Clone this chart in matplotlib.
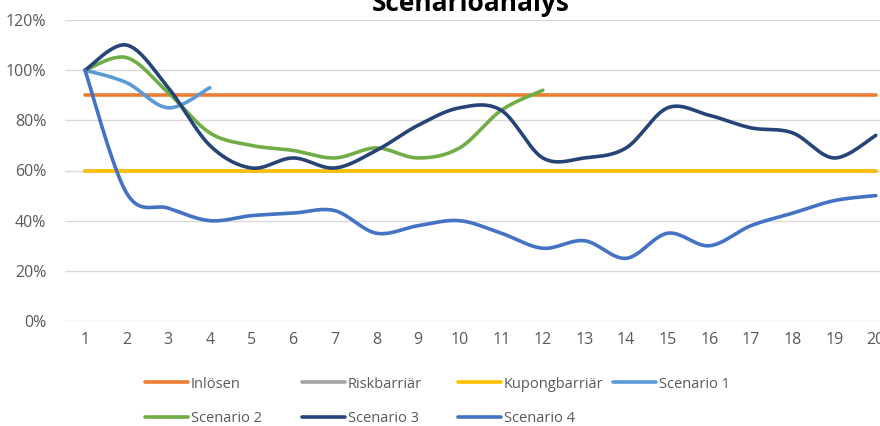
import numpy as np
import matplotlib.pyplot as plt
from matplotlib.ticker import PercentFormatter

plt.rcParams['font.family'] = ['Open Sans', 'DejaVu Sans']

x = list(range(1, 21))
inlosen = [0.90] * 20
riskbarriar = [0.60] * 20
kupongbarriar = [0.60] * 20
scenario1 = [1.00, 0.95, 0.85, 0.93]
scenario2 = [1.00, 1.05, 0.91, 0.75, 0.70, 0.68, 0.65, 0.69, 0.65, 0.69, 0.84, 0.92]
scenario3 = [1.00, 1.10, 0.93, 0.70, 0.61, 0.65, 0.61, 0.68, 0.78, 0.85,
             0.84, 0.65, 0.65, 0.69, 0.85, 0.82, 0.77, 0.75, 0.65, 0.74]
scenario4 = [1.00, 0.51, 0.45, 0.40, 0.42, 0.43, 0.44, 0.35, 0.38, 0.40,
             0.35, 0.29, 0.32, 0.25, 0.35, 0.30, 0.38, 0.43, 0.48, 0.50]


def smooth(xs, ys, n=30):
    # Catmull-Rom style curve through the points, like Excel's smoothed lines
    xs = np.asarray(xs, float)
    ys = np.asarray(ys, float)
    px = np.concatenate([[xs[0]], xs, [xs[-1]]])
    py = np.concatenate([[ys[0]], ys, [ys[-1]]])
    outx, outy = [], []
    t = np.linspace(0, 1, n)
    for i in range(1, len(px) - 2):
        p0, p1, p2, p3 = [np.array([px[j], py[j]]) for j in (i - 1, i, i + 1, i + 2)]
        c1 = p1 + (p2 - p0) / 6
        c2 = p2 - (p3 - p1) / 6
        b = ((1 - t) ** 3)[:, None] * p1 + (3 * (1 - t) ** 2 * t)[:, None] * c1 \
            + (3 * (1 - t) * t ** 2)[:, None] * c2 + (t ** 3)[:, None] * p2
        outx.extend(b[:, 0])
        outy.extend(b[:, 1])
    return outx, outy


fig = plt.figure(figsize=(8.8, 4.26), dpi=100)
ax = fig.add_axes([65 / 880, 1 - 321 / 426, 1 - 65 / 880, (321 - 20) / 426])

series = [
    ('Inlösen', x, inlosen, '#ED7D31'),
    ('Riskbarriär', x, riskbarriar, '#A5A5A5'),
    ('Kupongbarriär', x, kupongbarriar, '#FFC000'),
    ('Scenario 1', x[:len(scenario1)], scenario1, '#5B9BD5'),
    ('Scenario 2', x[:len(scenario2)], scenario2, '#70AD47'),
    ('Scenario 3', x, scenario3, '#264478'),
    ('Scenario 4', x, scenario4, '#4472C4'),
]

lines = {}
for name, xs, ys, col in series:
    sx, sy = smooth(xs, ys)
    ln, = ax.plot(sx, sy, color=col, lw=2.6, label=name, solid_capstyle='round', clip_on=False)
    lines[name] = ln

ax.set_ylim(0, 1.2)
ax.set_xlim(0.52, 20.1)
ax.set_yticks(np.arange(0, 1.21, 0.2))
ax.yaxis.set_major_formatter(PercentFormatter(1.0, decimals=0))
ax.set_xticks(x)
ax.grid(axis='y', color='#D9D9D9', lw=1)
ax.set_axisbelow(True)
for s in ax.spines.values():
    s.set_visible(False)
ax.tick_params(length=0, colors='#595959', labelsize=11.5)
ax.tick_params(axis='y', pad=13.5)
ax.tick_params(axis='x', pad=8)

fig.text(471 / 880, 1 - 11 / 426, 'Scenarioanalys', ha='center', va='baseline',
         fontsize=19, fontweight='bold')

# legend entries placed like Excel's two-row legend (handle start x, row y in px)
legend_pos = {
    'Inlösen': (145, 384), 'Riskbarriär': (302, 384),
    'Kupongbarriär': (458, 384), 'Scenario 1': (613, 384),
    'Scenario 2': (145, 419), 'Scenario 3': (302, 419), 'Scenario 4': (458, 419),
}
for name, (lx, ly) in legend_pos.items():
    fig.legend([lines[name]], [name], frameon=False, loc='center left',
               bbox_to_anchor=(lx / 880, 1 - ly / 426), borderpad=0,
               borderaxespad=0, fontsize=10.5, labelcolor='#595959',
               handlelength=2.95, handletextpad=0.2)

fig.savefig('out.png', dpi=100)
